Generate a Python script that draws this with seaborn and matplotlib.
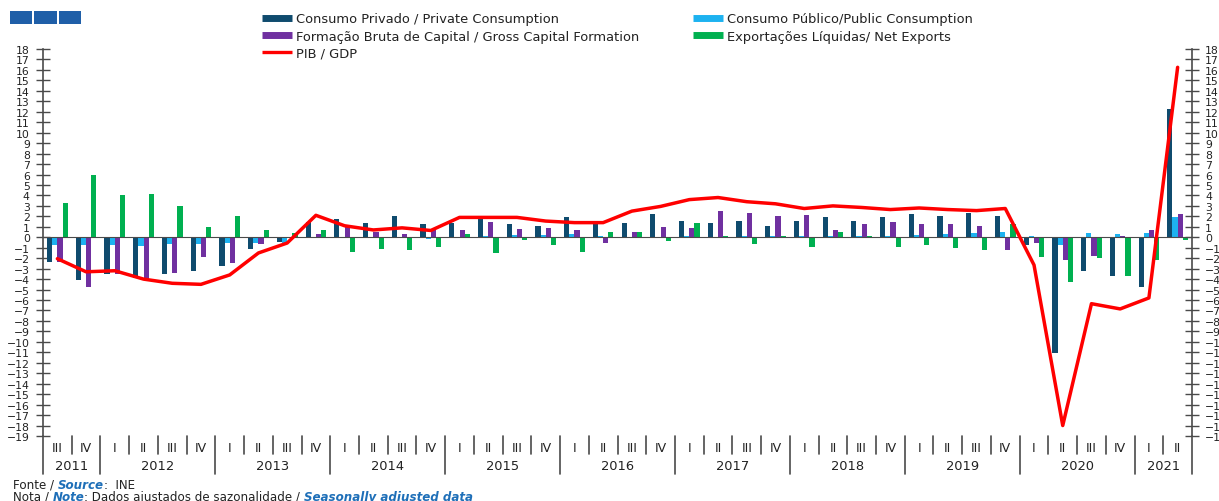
import numpy as np
import pandas as pd
import matplotlib
matplotlib.use("Agg")
import matplotlib.pyplot as plt
import seaborn as sns
from matplotlib.lines import Line2D
from matplotlib.patches import Rectangle

# ---------------- data ----------------
years = [2011] * 2 + [y for y in range(2012, 2021) for _ in range(4)] + [2021] * 2
quarters = ["III", "IV"] + ["I", "II", "III", "IV"] * 9 + ["I", "II"]

private = [-2.4, -4.1, -3.5, -3.85, -3.5, -3.25, -2.7, -1.1, -0.45, 1.5,
           1.7, 1.4, 2.0, 1.3, 1.4, 1.85, 1.3, 1.1, 1.95, 1.3,
           1.4, 2.25, 1.6, 1.4, 1.6, 1.1, 1.55, 1.9, 1.55, 1.9,
           2.2, 2.0, 2.3, 2.05, -0.7, -11.1, -3.2, -3.75, -4.8, 12.3]
public = [-0.75, -0.75, -0.7, -0.8, -0.6, -0.6, -0.5, -0.5, -0.6, 0.05,
          -0.1, 0.05, -0.05, -0.2, 0.05, 0.15, 0.2, 0.2, 0.3, 0.1,
          0.0, 0.05, 0.1, 0.05, 0.1, 0.1, 0.1, 0.1, 0.1, 0.15,
          0.25, 0.35, 0.45, 0.5, 0.15, -0.7, 0.4, 0.3, 0.4, 1.9]
gcf = [-2.35, -4.75, -3.5, -4.1, -3.4, -1.9, -2.5, -0.65, -0.1, 0.3,
       1.0, 0.55, 0.3, 0.7, 0.65, 1.5, 0.75, 0.9, 0.65, -0.55,
       0.55, 1.0, 0.9, 2.5, 2.3, 2.0, 2.1, 0.7, 1.3, 1.5,
       1.3, 1.3, 1.1, -1.2, -0.55, -2.15, -1.8, 0.1, 0.7, 2.2]
net_exports = [3.25, 6.0, 4.05, 4.1, 2.95, 1.0, 2.05, 0.65, 0.45, 0.7,
               -1.4, -1.1, -1.2, -0.95, 0.3, -1.55, -0.3, -0.7, -1.4, 0.5,
               0.55, -0.4, 1.35, 0.1, -0.65, 0.15, -0.95, 0.5, 0.1, -0.9,
               -0.75, -1.0, -1.2, 1.3, -1.85, -4.3, -2.0, -3.75, -2.2, -0.25]
gdp = [-2.05, -3.3, -3.2, -4.0, -4.4, -4.5, -3.6, -1.5, -0.55, 2.1,
       1.1, 0.7, 0.9, 0.65, 1.9, 1.9, 1.9, 1.55, 1.4, 1.4,
       2.5, 2.95, 3.6, 3.8, 3.4, 3.2, 2.75, 3.0, 2.85, 2.65,
       2.8, 2.65, 2.55, 2.75, -2.65, -18.0, -6.35, -6.85, -5.8, 16.25]

labels = ["Consumo Privado / Private Consumption",
          "Consumo Público/Public Consumption",
          "Formação Bruta de Capital / Gross Capital Formation",
          "Exportações Líquidas/ Net Exports",
          "PIB / GDP"]
colors = ["#0F4B6E", "#1DB2F0", "#7030A0", "#00B050", "#FF0000"]

# ---------------- styling ----------------
sns.set_style("white")
plt.rcParams["font.family"] = ["DejaVu Sans"]
txt = "#222222"
axc = "#4a4a4a"

n = len(quarters)
keys = [f"{y} {q}" for y, q in zip(years, quarters)]
df = pd.DataFrame({"period": keys, labels[0]: private, labels[1]: public,
                   labels[2]: gcf, labels[3]: net_exports})
long = df.melt(id_vars="period", var_name="comp", value_name="val")

W, H = 1219, 502
fig = plt.figure(figsize=(W / 100, H / 100), dpi=100)
ax = fig.add_axes([43 / W, 1 - 437 / H, (1192 - 43) / W, (437 - 50) / H])

sns.barplot(data=long, x="period", y="val", hue="comp", order=keys,
            hue_order=labels[:4], palette=colors[:4], width=0.72,
            saturation=1, errorbar=None, legend=False, ax=ax, linewidth=0)
ax.plot(np.arange(n), gdp, color=colors[4], lw=2.5, zorder=5)

ax.set_xlim(-0.5, n - 0.5)
ax.set_ylim(-19, 18)
ax.set_xlabel("")
ax.set_ylabel("")

tick_fs = 7.8
# y axis (left)
ax.set_yticks(range(-19, 19))
ax.tick_params(axis="y", direction="inout", length=10, width=1, pad=4.5,
               labelsize=tick_fs, color=axc, labelcolor=txt)
# x axis at zero
ax.spines["top"].set_visible(False)
ax.spines["right"].set_visible(False)
ax.spines["bottom"].set_position(("data", 0))
ax.spines["bottom"].set_color(axc)
ax.spines["left"].set_color(axc)
ax.spines["left"].set_linewidth(1.2)
ax.set_xticks([])
ax.set_xticks(np.arange(-0.5, n, 1), minor=True)
ax.tick_params(axis="x", which="minor", direction="out", length=3, width=1,
               color=axc, labelbottom=False)

# right axis
ax2 = ax.twinx()
ax2.set_ylim(-19, 18)
ax2.set_yticks(range(-19, 19))
for s in ["top", "bottom", "left"]:
    ax2.spines[s].set_visible(False)
ax2.spines["right"].set_color(axc)
ax2.spines["right"].set_linewidth(1.2)
ax2.tick_params(axis="y", direction="inout", length=10, width=1, pad=4.5,
                labelsize=tick_fs, color=axc, labelcolor=txt)

# category axis below the plot
tr = ax.get_xaxis_transform()
for b in np.arange(-0.5, n, 1):
    lo, hi = int(np.floor(b)), int(np.ceil(b))
    is_year = lo < 0 or hi >= n or years[lo] != years[hi]
    ax.plot([b, b], [0, -0.098 if is_year else -0.0465], transform=tr,
            clip_on=False, color=axc, lw=1.2)
for i, q in enumerate(quarters):
    ax.text(i, -0.031, q, transform=tr, ha="center", va="center",
            fontsize=9, color=txt)
for y in sorted(set(years)):
    idx = [i for i, yy in enumerate(years) if yy == y]
    ax.text(np.mean(idx), -0.0775, str(y), transform=tr, ha="center",
            va="center", fontsize=9.4, color=txt)

# legends
def handle(c, lw):
    return Line2D([0], [0], color=c, lw=lw, solid_capstyle="butt")

common = dict(loc="upper left", frameon=False, borderpad=0, borderaxespad=0,
              handlelength=2.3, handletextpad=0.3, labelspacing=0.32,
              fontsize=9.4, labelcolor=txt)
fig.legend([handle(colors[0], 5), handle(colors[2], 5), handle(colors[4], 2.4)],
           [labels[0], labels[2], labels[4]],
           bbox_to_anchor=(262 / W, 1 - 13.5 / H), **common)
fig.legend([handle(colors[1], 5), handle(colors[3], 5)],
           [labels[1], labels[3]],
           bbox_to_anchor=(693 / W, 1 - 13.5 / H), **common)

# decorative squares top-left
for x0, x1 in [(9.5, 31.5), (33.5, 56.5), (58.5, 81)]:
    fig.add_artist(Rectangle((x0 / W, 1 - 24.5 / H), (x1 - x0) / W, 12.5 / H,
                             transform=fig.transFigure, color="#1F5FA8", lw=0))

# footer
blue = "#1E6FB8"
def line(y, parts):
    t = fig.text(13 / W, 1 - y / H, parts[0][0], fontsize=8.6, color=txt,
                 va="baseline", **parts[0][1])
    for s, kw in parts[1:]:
        t = ax.annotate(s, xy=(1, 0), xycoords=t, va="bottom", ha="left",
                        fontsize=8.6, color=kw.pop("color", txt),
                        annotation_clip=False, **kw)

line(489, [("Fonte / ", {}), ("Source", dict(color=blue, style="italic", weight="bold")),
           (":  INE", {})])
line(501, [("Nota / ", {}), ("Note", dict(color=blue, style="italic", weight="bold")),
           (": Dados ajustados de sazonalidade / ", {}),
           ("Seasonally adjusted data", dict(color=blue, style="italic", weight="bold"))])

fig.savefig("out.png", dpi=100)
